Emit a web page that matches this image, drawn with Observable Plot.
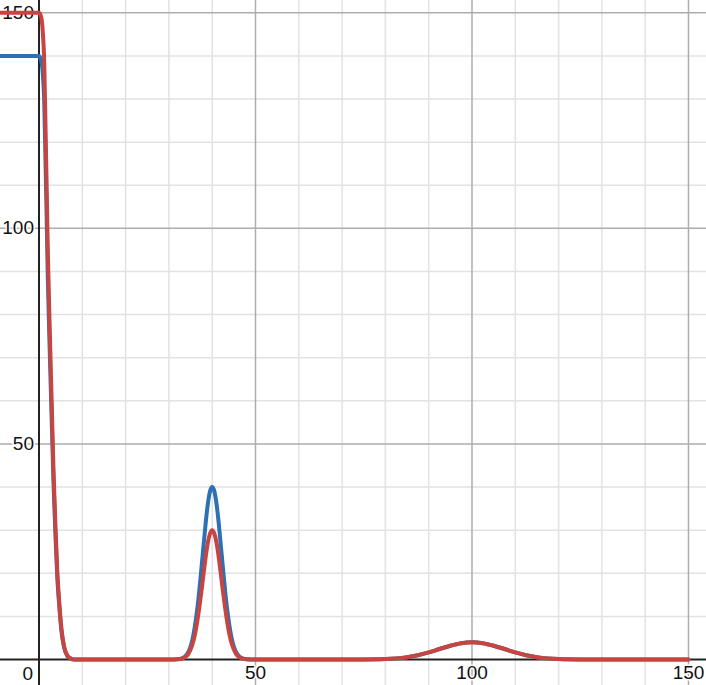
<!DOCTYPE html>
<html><head><meta charset="utf-8">
<script src="https://cdn.jsdelivr.net/npm/d3@7"></script>
<script src="https://cdn.jsdelivr.net/npm/@observablehq/plot@0.6"></script>
<style>html,body{margin:0;padding:0;background:#fff;overflow:hidden} svg{display:block}</style>
</head><body><div id="chart"></div>
<script>
// x positions
const xs = [-10, 0, 0.5, 0.88, 1.2, 1.5, 1.75, 2.03, 2.5, 3, 3.35, 3.8, 4.2, 4.7, 5.2, 5.8, 6.5, 7.2, 8, 10, 20, 30,
  32, 33, 34, 34.5, 35, 35.5, 36, 36.5, 37, 37.5, 38, 38.5, 39, 39.5, 40, 40.5, 41, 41.5, 42, 42.5, 43, 43.5, 44, 44.5, 45, 45.5, 46, 47, 48,
  50, 60, 70, 75, 80, 82.5, 85, 87.5, 90, 92.5, 95, 97.5, 100, 102.5, 105, 107.5, 110, 112.5, 115, 117.5, 120, 125, 130, 140, 150, 160];
// blue series values
const blueVals = [140, 140, 139, 135.8, 129.7, 115.7, 103.6, 88.7, 70.9, 53.2, 41.1, 28.9, 19.6, 12.1, 6.5, 2.8, 0.9, 0.3, 0, 0, 0, 0,
  0.05, 0.25, 0.97, 1.76, 3.0, 4.9, 7.7, 11.3, 15.8, 21.0, 26.4, 31.7, 36.1, 39.0, 40, 39.0, 36.1, 31.7, 26.4, 21.0, 15.8, 11.3, 7.7, 4.9, 3.0, 1.76, 0.97, 0.25, 0.05,
  0, 0, 0, 0.015, 0.11, 0.26, 0.54, 1.0, 1.64, 2.43, 3.2, 3.78, 4, 3.78, 3.2, 2.43, 1.64, 1.0, 0.54, 0.26, 0.11, 0.015, 0, 0, 0];
// red series values
const redVals = [150, 150, 149, 145.5, 139, 124, 111, 95, 76, 57, 44, 31, 21, 13, 7, 3, 1, 0.3, 0, 0, 0, 0,
  0.04, 0.19, 0.73, 1.32, 2.3, 3.7, 5.7, 8.5, 11.9, 15.7, 19.8, 23.8, 27.1, 29.2, 30, 29.2, 27.1, 23.8, 19.8, 15.7, 11.9, 8.5, 5.7, 3.7, 2.3, 1.32, 0.73, 0.19, 0.04,
  0, 0, 0, 0.015, 0.11, 0.26, 0.54, 1.0, 1.64, 2.43, 3.2, 3.78, 4, 3.78, 3.2, 2.43, 1.64, 1.0, 0.54, 0.26, 0.11, 0.015, 0, 0, 0];

const minorTicks = [10, 20, 30, 40, 60, 70, 80, 90, 110, 120, 130, 140];
const majorTicks = [50, 100, 150];
const xTickLabels = ["50", "100", "150"];
const yTickLabels = ["50", "100", "150"];
const zeroLabel = ["0"];

const rows = xs.map((x, i) => ({x, blue: blueVals[i], red: redVals[i]}));
const xLab = majorTicks.map((v, i) => ({v, t: xTickLabels[i]}));
const yLab = majorTicks.map((v, i) => ({v, t: yTickLabels[i]}));

const font = "Liberation Sans, Arial, sans-serif";
const plot = Plot.plot({
  width: 706, height: 685, margin: 0,
  x: {domain: [-8.89, 154.16], axis: null},
  y: {domain: [-6.03, 152.85], axis: null},
  style: {background: "#fff", fontFamily: font},
  marks: [
    Plot.ruleX(minorTicks, {stroke: "#e2e2e2", strokeWidth: 1.5}),
    Plot.ruleY(minorTicks, {stroke: "#e2e2e2", strokeWidth: 1.5}),
    Plot.ruleX(majorTicks, {stroke: "#adadad", strokeWidth: 1.5}),
    Plot.ruleY(majorTicks, {stroke: "#adadad", strokeWidth: 1.5}),
    Plot.ruleX([0], {stroke: "#222", strokeWidth: 2}),
    Plot.ruleY([0], {stroke: "#222", strokeWidth: 2}),
    Plot.text(xLab, {x: "v", y: () => 0, text: "t", lineAnchor: "top", dy: 6, fontSize: 19, fill: "#111", stroke: "white", strokeWidth: 3}),
    Plot.text(zeroLabel, {x: () => 0, y: () => 0, text: d => d, textAnchor: "end", lineAnchor: "top", dx: -6, dy: 7, fontSize: 19, fill: "#111", stroke: "white", strokeWidth: 3}),
    Plot.text(yLab, {x: () => 0, y: "v", text: "t", textAnchor: "end", dx: -5, fontSize: 19, fill: "#111", stroke: "white", strokeWidth: 3}),
    Plot.line(rows, {x: "x", y: "blue", stroke: "#2d70b3", strokeWidth: 4, curve: "monotone-x", clip: true}),
    Plot.line(rows, {x: "x", y: "red", stroke: "#c74440", strokeWidth: 4, curve: "monotone-x", clip: true})
  ]
});
document.getElementById("chart").appendChild(plot);
</script>
</body></html>
